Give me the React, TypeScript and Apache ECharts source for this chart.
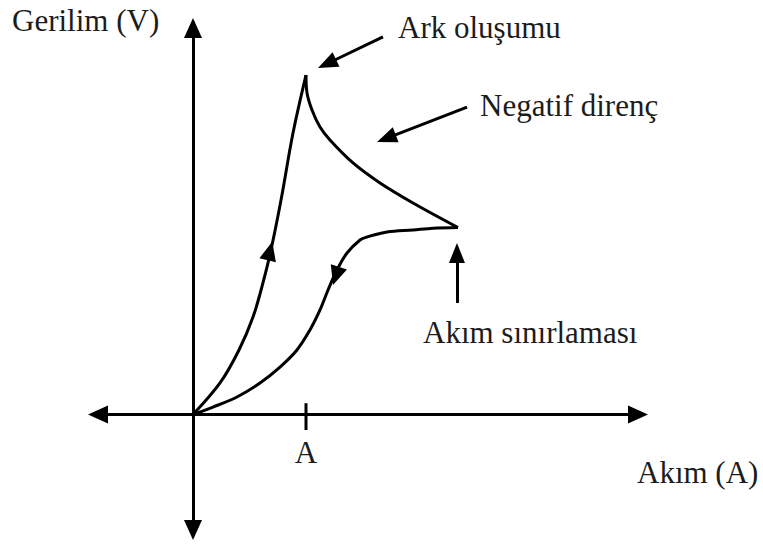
import React, { useEffect, useRef } from "react";
import * as echarts from "echarts";

const FONT = '"Liberation Serif", "Times New Roman", serif';

// Current (x) / voltage (y) in schematic units; x = 1 is the marked current A.
const risingBranch: [number, number][] = [
  [0, 0],
  [0.239, 0.279],
  [0.407, 0.571],
  [0.531, 0.863],
  [0.619, 1.164],
  [0.69, 1.456],
  [0.779, 1.898],
  [0.885, 2.491],
  [1.0, 3.004],
];

const negativeResistanceBranch: [number, number][] = [
  [1.0, 3.004],
  [1.009, 2.845],
  [1.053, 2.695],
  [1.124, 2.544],
  [1.212, 2.429],
  [1.416, 2.226],
  [1.655, 2.049],
  [1.947, 1.872],
  [2.345, 1.655],
];

const returnBranch: [number, number][] = [
  [2.345, 1.655],
  [2.124, 1.648],
  [1.947, 1.633],
  [1.717, 1.615],
  [1.54, 1.571],
  [1.478, 1.544],
  [1.363, 1.429],
  [1.274, 1.279],
  [1.195, 1.102],
  [1.124, 0.925],
  [1.035, 0.748],
  [0.92, 0.571],
  [0.77, 0.42],
  [0.593, 0.279],
  [0.389, 0.155],
  [0.177, 0.066],
  [0, 0],
];

// Direction arrows on the loop: [x, y, rotation in degrees]
const loopArrows: [number, number, number][] = [
  [0.681, 1.447, -14],
  [1.265, 1.226, 162],
];

// Current mark on the horizontal axis
const tickMark: [number, number][] = [
  [1, 0.1],
  [1, -0.137],
];
const tickLabel = "A";

// Annotation arrows: [from, to]
const annotationArrows: [number, number][][] = [
  [
    [1.681, 3.341],
    [1.186, 3.104],
  ],
  [
    [2.425, 2.721],
    [1.711, 2.443],
  ],
  [
    [2.336, 0.987],
    [2.336, 1.429],
  ],
];

const yTitle = "Gerilim (V)";
const xTitle = "Akım (A)";
const annotationTexts = ["Ark oluşumu", "Negatif direnç", "Akım sınırlaması"];

const X_MIN = -0.8407;
const X_MAX = 3.938;
const Y_MIN = -1.0221;
const Y_MAX = 3.4204;

const black = "#000";
const textColor = "#1c1c1c";

function curve(data: [number, number][]) {
  return {
    type: "line",
    data,
    smooth: 0.35,
    symbol: "none",
    lineStyle: { color: black, width: 3 },
    z: 3,
  };
}

function textEl(text: string, x: number, y: number) {
  return {
    type: "text",
    x,
    y,
    style: {
      text,
      fontSize: 31,
      fontFamily: FONT,
      fill: textColor,
      align: "left",
      verticalAlign: "middle",
    },
  };
}

export default function App() {
  const ref = useRef<HTMLDivElement>(null);

  useEffect(() => {
    document.body.style.margin = "0";
    if (!ref.current) return;
    const chart = echarts.init(ref.current, undefined, { renderer: "svg" });

    const axisLine = {
      onZero: true,
      symbol: ["triangle", "triangle"],
      symbolSize: [18, 20],
      lineStyle: { color: black, width: 3 },
    };

    chart.setOption({
      animation: false,
      backgroundColor: "#fff",
      grid: { left: 98, right: 125, top: 28, bottom: 16, containLabel: false },
      xAxis: {
        type: "value",
        min: X_MIN,
        max: X_MAX,
        axisLine,
        axisTick: { show: false },
        axisLabel: { show: false },
        splitLine: { show: false },
      },
      yAxis: {
        type: "value",
        min: Y_MIN,
        max: Y_MAX,
        axisLine,
        axisTick: { show: false },
        axisLabel: { show: false },
        splitLine: { show: false },
      },
      series: [
        curve(risingBranch),
        curve(negativeResistanceBranch),
        curve(returnBranch),
        {
          type: "scatter",
          data: loopArrows.map(([x, y, r]) => ({ value: [x, y], symbolRotate: r })),
          symbol: "triangle",
          symbolSize: [17, 19],
          itemStyle: { color: black, opacity: 1 },
          emphasis: { disabled: true },
          z: 4,
        },
        {
          type: "line",
          data: [
            { value: tickMark[0] },
            {
              value: tickMark[1],
              label: {
                show: true,
                position: "bottom",
                distance: 7,
                formatter: tickLabel,
                fontSize: 31,
                fontFamily: FONT,
                color: textColor,
              },
            },
          ],
          symbol: "circle",
          symbolSize: 0,
          showSymbol: true,
          lineStyle: { color: black, width: 3 },
          z: 3,
          markLine: {
            silent: true,
            animation: false,
            symbol: ["none", "triangle"],
            symbolSize: [16, 20],
            lineStyle: { color: black, width: 3, type: "solid" },
            label: { show: false },
            emphasis: { disabled: true },
            data: annotationArrows.map(([a, b]) => [{ coord: a }, { coord: b }]),
          },
        },
      ],
      graphic: [
        textEl(yTitle, 12, 20),
        textEl(xTitle, 637, 472),
        textEl(annotationTexts[0], 398, 27),
        textEl(annotationTexts[1], 480, 105),
        textEl(annotationTexts[2], 423, 332),
      ],
    });

    return () => chart.dispose();
  }, []);

  return <div ref={ref} style={{ width: 763, height: 546 }} />;
}
